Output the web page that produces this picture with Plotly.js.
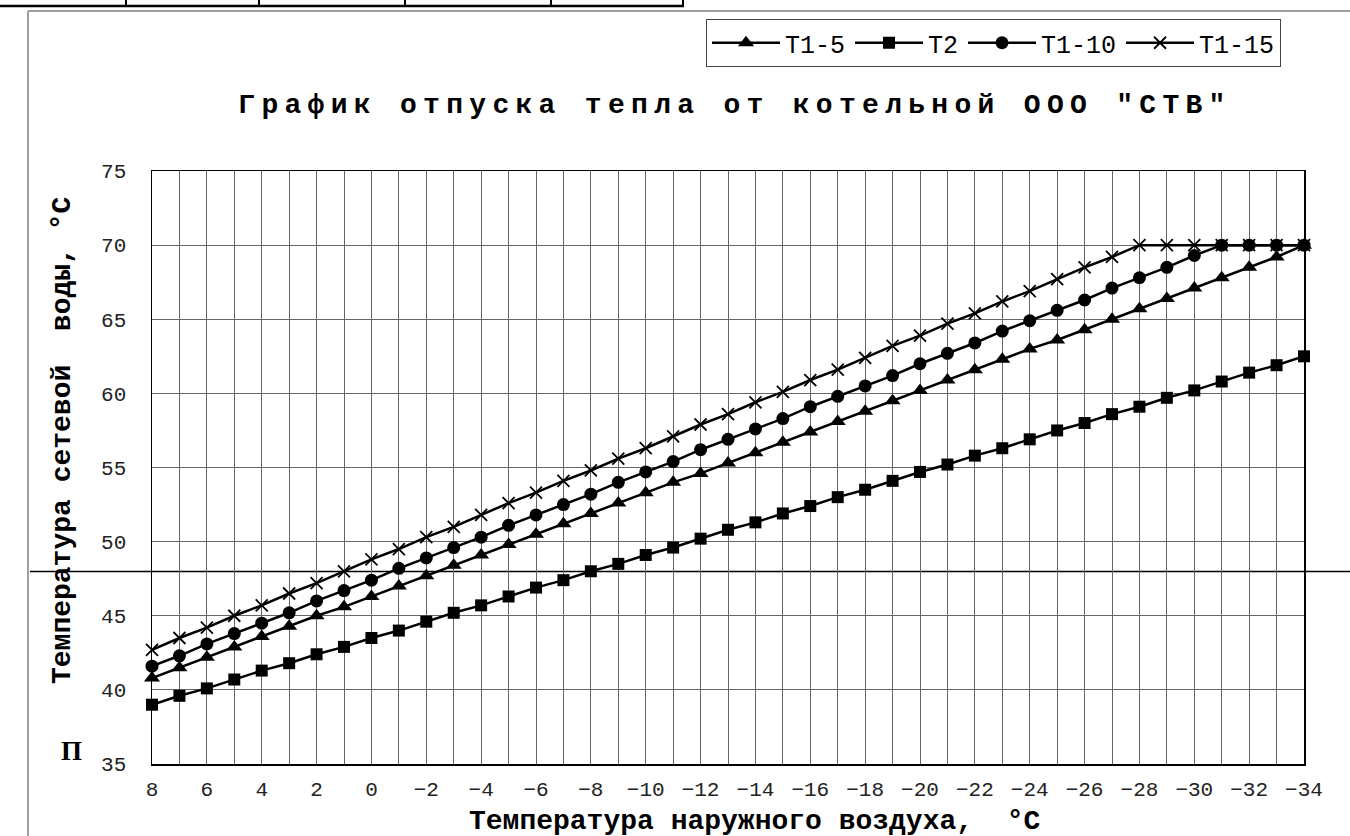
<!DOCTYPE html>
<html>
<head>
<meta charset="utf-8">
<script src="https://cdn.plot.ly/plotly-3.0.1.min.js"></script>
<style>
  html, body { margin: 0; padding: 0; background: #fff; }
  #chart { width: 1350px; height: 836px; }
  .gtitle { letter-spacing: 6.3px; }
</style>
</head>
<body>
<div id="chart"></div>
<script>
// Outdoor air temperature, °C (categories)
const outdoorTemp = [8, 7, 6, 5, 4, 3, 2, 1, 0, -1, -2, -3, -4, -5, -6, -7, -8, -9, -10, -11, -12, -13, -14, -15, -16, -17, -18, -19, -20, -21, -22, -23, -24, -25, -26, -27, -28, -29, -30, -31, -32, -33, -34];

// Supply water temperature series, °C
const seriesT1_5 = [40.8, 41.5, 42.2, 42.9, 43.6, 44.3, 45.0, 45.6, 46.3, 47.0, 47.7, 48.4, 49.1, 49.8, 50.5, 51.2, 51.9, 52.6, 53.3, 54.0, 54.6, 55.3, 56.0, 56.7, 57.4, 58.1, 58.8, 59.5, 60.2, 60.9, 61.6, 62.3, 63.0, 63.6, 64.3, 65.0, 65.7, 66.4, 67.1, 67.8, 68.5, 69.2, 70.0];
const seriesT2 = [39.0, 39.6, 40.1, 40.7, 41.3, 41.8, 42.4, 42.9, 43.5, 44.0, 44.6, 45.2, 45.7, 46.3, 46.9, 47.4, 48.0, 48.5, 49.1, 49.6, 50.2, 50.8, 51.3, 51.9, 52.4, 53.0, 53.5, 54.1, 54.7, 55.2, 55.8, 56.3, 56.9, 57.5, 58.0, 58.6, 59.1, 59.7, 60.2, 60.8, 61.4, 61.9, 62.5];
const seriesT1_10 = [41.6, 42.3, 43.1, 43.8, 44.5, 45.2, 46.0, 46.7, 47.4, 48.2, 48.9, 49.6, 50.3, 51.1, 51.8, 52.5, 53.2, 54.0, 54.7, 55.4, 56.2, 56.9, 57.6, 58.3, 59.1, 59.8, 60.5, 61.2, 62.0, 62.7, 63.4, 64.2, 64.9, 65.6, 66.3, 67.1, 67.8, 68.5, 69.3, 70.0, 70.0, 70.0, 70.0];
const seriesT1_15 = [42.7, 43.5, 44.2, 45.0, 45.7, 46.5, 47.2, 48.0, 48.8, 49.5, 50.3, 51.0, 51.8, 52.6, 53.3, 54.1, 54.8, 55.6, 56.3, 57.1, 57.9, 58.6, 59.4, 60.1, 60.9, 61.6, 62.4, 63.2, 63.9, 64.7, 65.4, 66.2, 66.9, 67.7, 68.5, 69.2, 70.0, 70.0, 70.0, 70.0, 70.0, 70.0, 70.0];

const seriesNames = ["T1-5", "T2", "T1-10", "T1-15"];
const chartTitle = 'График отпуска тепла от котельной ООО "СТВ"';
const xTitle = 'Температура наружного воздуха,\u00a0\u00a0°C';
const yTitle = 'Температура сетевой\u00a0\u00a0воды,\u00a0°C';

const MONO = '"Liberation Mono", "Courier New", monospace';

function mk(y, name, symbol, size, lw) {
  return {
    x: outdoorTemp, y: y, name: name, type: 'scatter', mode: 'lines+markers',
    cliponaxis: false,
    line: {color: '#000', width: 2.5},
    marker: {symbol: symbol, size: size, color: '#000', line: {color: '#000', width: lw}}
  };
}

const traces = [
  mk(seriesT1_5, seriesNames[0], 'triangle-up', 14, 0),
  mk(seriesT2, seriesNames[1], 'square', 12, 0),
  mk(seriesT1_10, seriesNames[2], 'circle', 13, 0),
  mk(seriesT1_15, seriesNames[3], 'x-thin', 12, 1.8)
];

const W = 1152, H = 593, L = 152, T = 171;
function px(xp) { return (xp - L) / W; }
function py(yp) { return (T + H - yp) / H; }

const layout = {
  width: 1350, height: 836,
  margin: {l: L, r: 1350 - L - W, t: T, b: 836 - T - H},
  paper_bgcolor: '#fff', plot_bgcolor: '#fff',
  font: {family: MONO, color: '#000', size: 21},
  title: {
    text: chartTitle,
    font: {family: MONO, size: 28, weight: 'bold', color: '#000'},
    xref: 'paper', x: px(735), xanchor: 'center',
    yref: 'container', y: 1 - 103 / 836, yanchor: 'middle'
  },
  xaxis: {
    range: [8, -34], tick0: 8, dtick: 2,
    showgrid: true, gridcolor: '#666', gridwidth: 1,
    minor: {dtick: 1, showgrid: true, gridcolor: '#666', gridwidth: 1},
    showline: true, linecolor: '#000', linewidth: 1.5, mirror: true,
    ticks: '', ticklabelstandoff: 5,
    tickfont: {family: MONO, size: 21, color: '#222'},
    zeroline: false
  },
  yaxis: {
    range: [35, 75], dtick: 5, tick0: 35,
    showgrid: true, gridcolor: '#666', gridwidth: 1,
    showline: true, linecolor: '#000', linewidth: 1.5, mirror: true,
    ticks: '', ticklabelstandoff: 20,
    tickfont: {family: MONO, size: 21, color: '#222'},
    zeroline: false
  },
  showlegend: true,
  legend: {
    orientation: 'h', x: px(706), y: py(19), xanchor: 'left', yanchor: 'top',
    bordercolor: '#444', borderwidth: 1, bgcolor: '#fff',
    font: {family: MONO, size: 25, color: '#000'},
    traceorder: 'normal', itemwidth: 68
  },
  shapes: [
    // document frame lines (gray)
    {type: 'line', xref: 'paper', yref: 'paper', x0: px(28), x1: px(28), y0: py(11), y1: py(836), line: {color: '#a0a0a0', width: 2}},
    {type: 'line', xref: 'paper', yref: 'paper', x0: px(28), x1: px(1350), y0: py(11), y1: py(11), line: {color: '#a0a0a0', width: 2}},
    // top table remnants
    {type: 'line', xref: 'paper', yref: 'paper', x0: px(0), x1: px(684), y0: py(6), y1: py(6), line: {color: '#000', width: 2.5}},
    {type: 'line', xref: 'paper', yref: 'paper', x0: px(126), x1: px(126), y0: py(0), y1: py(6), line: {color: '#000', width: 2}},
    {type: 'line', xref: 'paper', yref: 'paper', x0: px(259), x1: px(259), y0: py(0), y1: py(6), line: {color: '#000', width: 2}},
    {type: 'line', xref: 'paper', yref: 'paper', x0: px(405), x1: px(405), y0: py(0), y1: py(6), line: {color: '#000', width: 2}},
    {type: 'line', xref: 'paper', yref: 'paper', x0: px(551), x1: px(551), y0: py(0), y1: py(6), line: {color: '#000', width: 2}},
    {type: 'line', xref: 'paper', yref: 'paper', x0: px(683), x1: px(683), y0: py(0), y1: py(6), line: {color: '#000', width: 2}},
    // document horizontal rule crossing the chart
    {type: 'line', xref: 'paper', yref: 'paper', x0: px(30), x1: px(1350), y0: py(571.5), y1: py(571.5), line: {color: '#000', width: 1.5}, layer: 'below'}
  ],
  annotations: [
    // axis titles
    {text: '<b>' + xTitle + '</b>', xref: 'paper', yref: 'paper', x: px(754), y: py(821), xanchor: 'center', yanchor: 'middle', showarrow: false,
     font: {family: MONO, size: 28, color: '#000'}},
    {text: '<b>' + yTitle + '</b>', xref: 'paper', yref: 'paper', x: px(62), y: py(441), xanchor: 'center', yanchor: 'middle', showarrow: false,
     textangle: -90, font: {family: MONO, size: 28, color: '#000'}},
    // stray document letter
    {text: '<b>П</b>', xref: 'paper', yref: 'paper', x: px(71), y: py(751), xanchor: 'center', yanchor: 'middle', showarrow: false,
     font: {family: '"Liberation Serif", "Times New Roman", serif', size: 27, color: '#000'}}
  ]
};

Plotly.newPlot('chart', traces, layout, {staticPlot: true, displayModeBar: false});
</script>
</body>
</html>
